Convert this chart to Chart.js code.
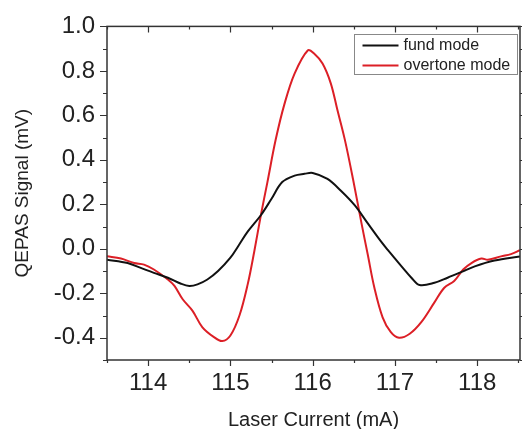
<!DOCTYPE html>
<html>
<head>
<meta charset="utf-8">
<script src="https://cdn.jsdelivr.net/npm/chart.js@4/dist/chart.umd.min.js"></script>
<style>
  html, body { margin: 0; padding: 0; background: #fff; }
  #wrap { width: 522px; height: 429px; }
</style>
</head>
<body>
<div id="wrap"><canvas id="chart"></canvas></div>
<script>
// fund mode (black)
var fundX = [113.5, 113.75, 113.91, 114.07, 114.24, 114.4, 114.5, 114.6, 114.72, 114.85, 115.0, 115.1, 115.21, 115.37, 115.5, 115.63, 115.78, 115.9, 116.0, 116.18, 116.34, 116.51, 116.67, 116.83, 116.91, 117.08, 117.2, 117.3, 117.48, 117.64, 117.81, 117.97, 118.21, 118.52];
var fundY = [-0.049, -0.064, -0.086, -0.108, -0.13, -0.157, -0.167, -0.16, -0.138, -0.1, -0.04, 0.015, 0.077, 0.151, 0.225, 0.3, 0.329, 0.337, 0.341, 0.314, 0.262, 0.196, 0.114, 0.033, -0.004, -0.079, -0.13, -0.163, -0.153, -0.13, -0.104, -0.079, -0.053, -0.034];
// overtone mode (red)
var overX = [113.5, 113.67, 113.83, 113.95, 114.07, 114.24, 114.32, 114.42, 114.54, 114.66, 114.8, 114.9, 115.0, 115.11, 115.21, 115.29, 115.37, 115.45, 115.55, 115.66, 115.78, 115.94, 116.02, 116.12, 116.22, 116.3, 116.39, 116.49, 116.59, 116.67, 116.75, 116.85, 116.95, 117.05, 117.18, 117.32, 117.48, 117.6, 117.72, 117.83, 117.93, 118.05, 118.13, 118.29, 118.41, 118.52];
var overY = [-0.034, -0.044, -0.064, -0.071, -0.093, -0.138, -0.167, -0.227, -0.279, -0.353, -0.397, -0.415, -0.39, -0.3, -0.16, -0.012, 0.151, 0.3, 0.49, 0.655, 0.788, 0.892, 0.877, 0.833, 0.744, 0.625, 0.492, 0.314, 0.121, -0.027, -0.175, -0.308, -0.375, -0.4, -0.382, -0.33, -0.241, -0.175, -0.145, -0.093, -0.064, -0.044, -0.049, -0.034, -0.024, -0.006];

var xMin = 113.5, xMax = 118.52;
var yMin = -0.5, yMax = 1.0;

function toPoints(xs, ys) {
    return xs.map(function (x, i) { return { x: x, y: ys[i] }; });
}

var FONT = "'Liberation Sans', Arial, sans-serif";
var AXIS = '#333';

// box, ticks on all four sides, and the legend inside the plot
var framePlugin = {
    id: 'frame',
    afterDraw: function (chart) {
        var ctx = chart.ctx, a = chart.chartArea;
        var xs = chart.scales.x, ys = chart.scales.y;
        ctx.save();
        ctx.strokeStyle = AXIS;
        ctx.lineWidth = 1.5;
        ctx.strokeRect(a.left, a.top, a.right - a.left, a.bottom - a.top);
        ctx.lineWidth = 1.2;
        ctx.beginPath();
        xs.ticks.forEach(function (t) {
            var px = Math.round(xs.getPixelForValue(t.value)) + 0.5;
            var major = Math.abs(t.value - Math.round(t.value)) < 1e-6;
            var len = major ? 6 : 3;
            ctx.moveTo(px, a.bottom); ctx.lineTo(px, a.bottom + len);
            ctx.moveTo(px, a.top); ctx.lineTo(px, a.top + len);
        });
        ys.ticks.forEach(function (t) {
            var py = Math.round(ys.getPixelForValue(t.value)) + 0.5;
            var major = Math.round(t.value * 10) % 2 === 0;
            var len = major ? 7 : 4;
            ctx.moveTo(a.left - len, py); ctx.lineTo(a.left, py);
            ctx.moveTo(a.right, py); ctx.lineTo(a.right + len, py);
        });
        ctx.stroke();

        // legend
        var bx = 354.5, by = 34.5, bw = 163, bh = 40;
        ctx.lineWidth = 1;
        ctx.strokeStyle = '#888';
        ctx.strokeRect(bx, by, bw, bh);
        ctx.font = '16px ' + FONT;
        ctx.textBaseline = 'middle';
        ctx.fillStyle = '#222';
        chart.data.datasets.forEach(function (ds, i) {
            var ly = by + 11 + i * 20;
            ctx.strokeStyle = ds.borderColor;
            ctx.lineWidth = 2;
            ctx.beginPath();
            ctx.moveTo(bx + 8, ly); ctx.lineTo(bx + 44, ly);
            ctx.stroke();
            ctx.fillText(ds.label, bx + 49, ly);
        });
        ctx.restore();
    }
};

var mychart = document.getElementById('chart').getContext('2d');
var newChart = new Chart(mychart, {
    type: 'scatter',
    data: {
        datasets: [{
            label: 'fund mode',
            data: toPoints(fundX, fundY),
            showLine: true,
            borderColor: '#111111',
            borderWidth: 2,
            pointRadius: 0,
            tension: 0.35
        }, {
            label: 'overtone mode',
            data: toPoints(overX, overY),
            showLine: true,
            borderColor: '#dc1f26',
            borderWidth: 2,
            pointRadius: 0,
            tension: 0.35
        }]
    },
    options: {
        responsive: true,
        maintainAspectRatio: false,
        animation: false,
        layout: { padding: { top: 22, right: 2, left: 0, bottom: 0 } },
        plugins: {
            legend: { display: false },
            tooltip: { enabled: false }
        },
        scales: {
            x: {
                type: 'linear',
                min: xMin,
                max: xMax,
                afterFit: function (s) { s.height = 69; s.paddingRight = 0; },
                border: { display: false },
                grid: { drawOnChartArea: false, drawTicks: false },
                ticks: {
                    stepSize: 0.5,
                    includeBounds: false,
                    autoSkip: false,
                    maxRotation: 0,
                    padding: 9,
                    color: '#222',
                    font: { family: FONT, size: 24 },
                    callback: function (v) {
                        return Math.abs(v - Math.round(v)) < 1e-6 ? String(Math.round(v)) : '';
                    }
                },
                title: {
                    display: true,
                    text: 'Laser Current (mA)',
                    color: '#222',
                    font: { family: FONT, size: 20, lineHeight: 0.85 },
                    padding: 0
                }
            },
            y: {
                min: yMin,
                max: yMax,
                afterFit: function (s) { s.width = 107; },
                border: { display: false },
                grid: { drawOnChartArea: false, drawTicks: false },
                ticks: {
                    stepSize: 0.1,
                    autoSkip: false,
                    padding: 12,
                    color: '#222',
                    font: { family: FONT, size: 24 },
                    callback: function (v) {
                        var k = Math.round(v * 10);
                        return k % 2 === 0 ? (k / 10).toFixed(1) : '';
                    }
                },
                title: {
                    display: true,
                    text: 'QEPAS Signal (mV)',
                    color: '#222',
                    font: { family: FONT, size: 19, lineHeight: 1.2 },
                    padding: { top: 11, bottom: 0 }
                }
            }
        }
    },
    plugins: [framePlugin]
});
</script>
</body>
</html>
